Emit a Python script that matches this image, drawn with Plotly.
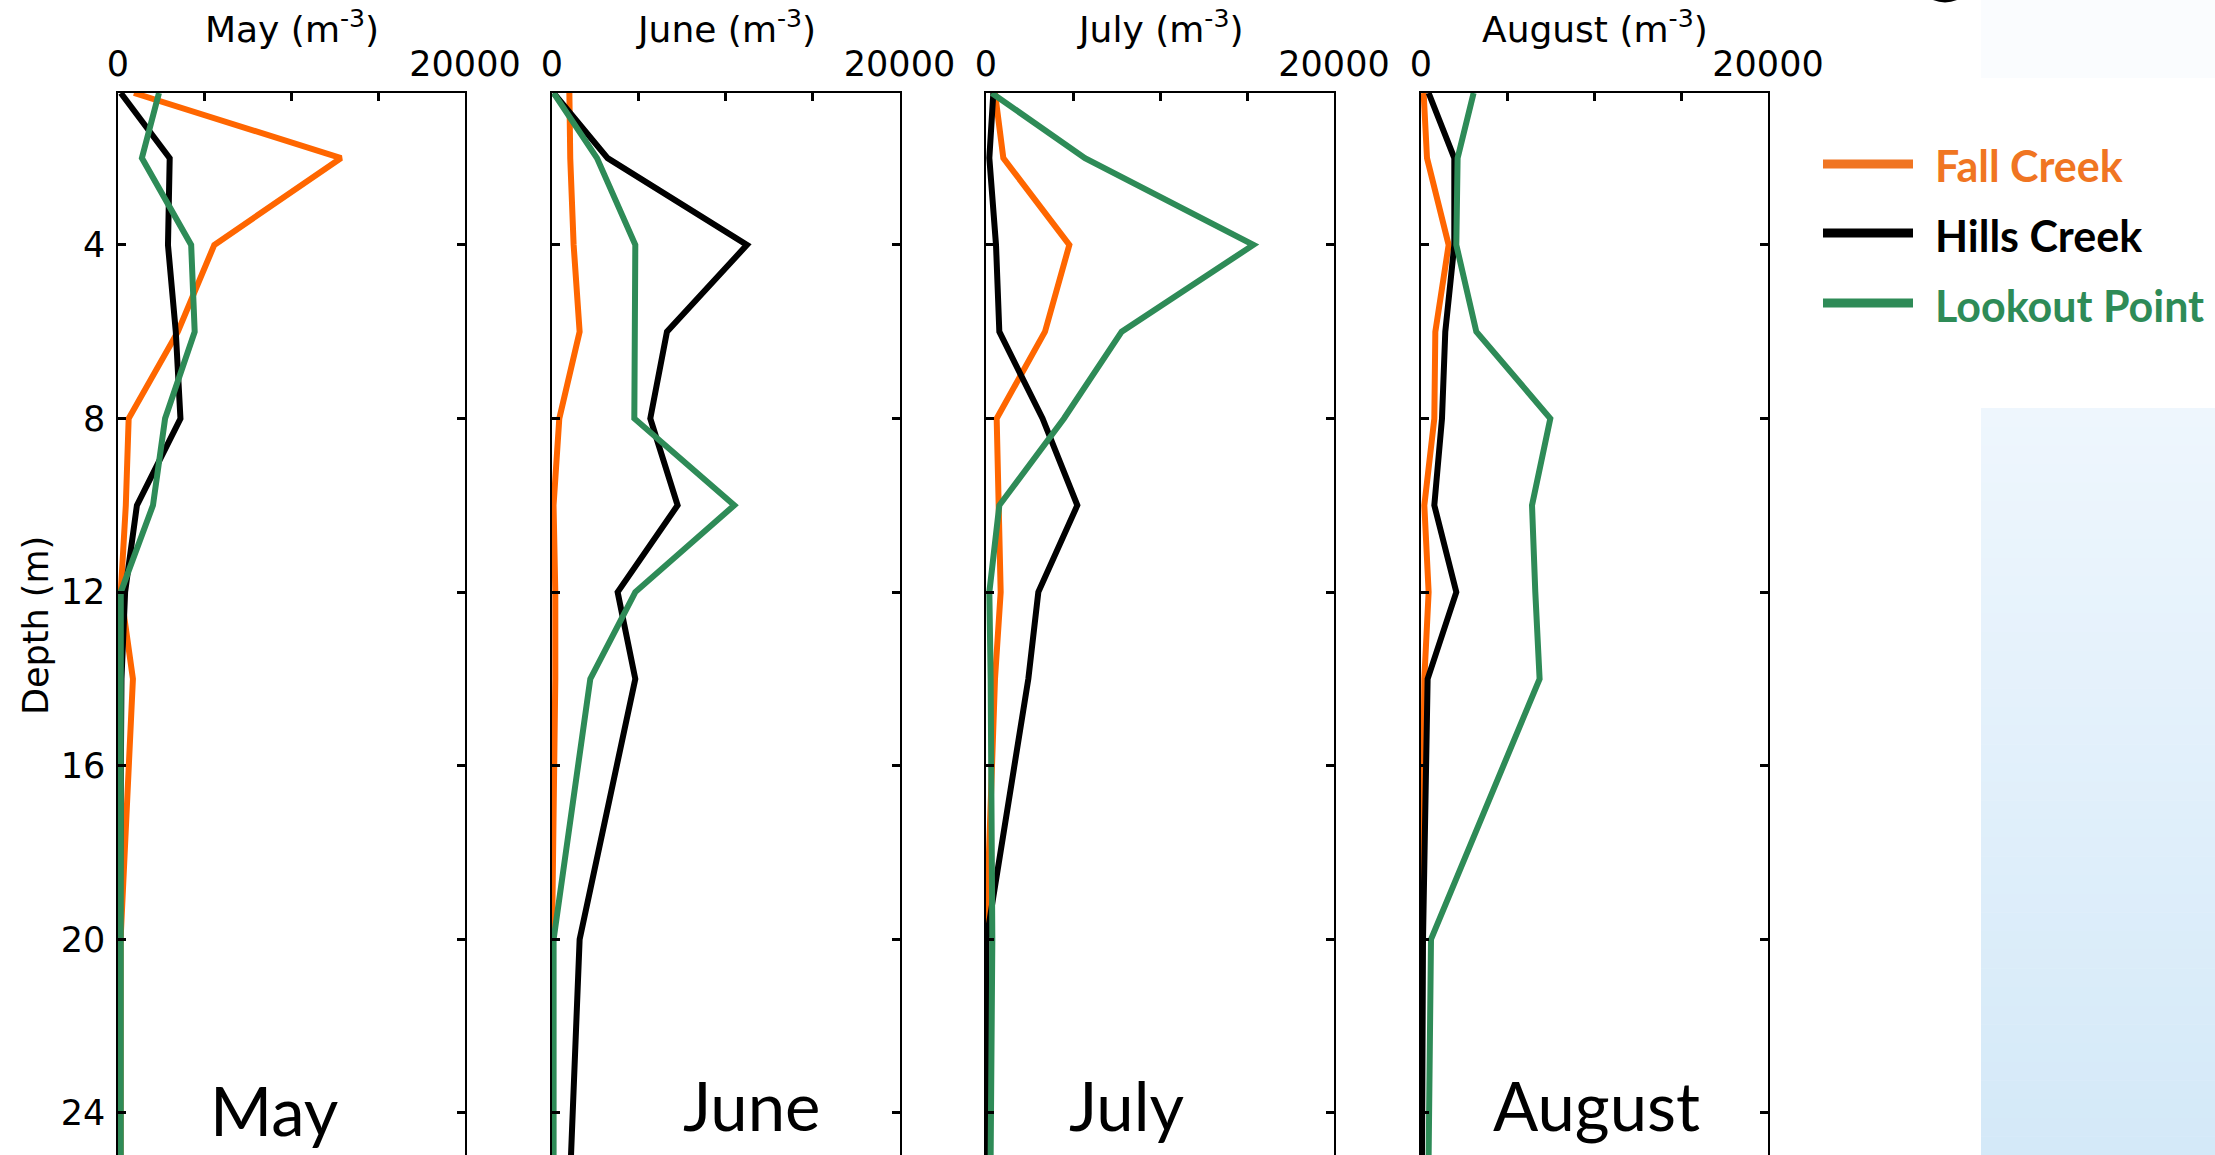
import plotly.graph_objects as go

W, H = 2215, 1155

# Sampling depths (m)
depths = [0.5, 2, 4, 6, 8, 10, 12, 14, 20, 25]

months = ["May", "June", "July", "August"]

# Densities (m^-3) per reservoir and month, top to bottom
fall_creek = {
    "May":    [920, 12860, 5550, 3450, 615, 450, 160, 860, 150, 150],
    "June":   [1000, 1050, 1245, 1590, 420, 90, 190, 190, 0, 0],
    "July":   [517, 996, 4790, 3390, 613, 709, 843, 517, 0, 0],
    "August": [152, 346, 1593, 826, 768, 192, 440, 192, 40, 40],
}
hills_creek = {
    "May":    [160, 2980, 2880, 3330, 3600, 1090, 410, 200, 100, 100],
    "June":   [92, 3200, 11220, 6617, 5657, 7229, 3777, 4795, 1590, 1092],
    "July":   [421, 192, 575, 766, 3250, 5249, 3008, 2433, 30, 30],
    "August": [440, 1920, 1920, 1400, 1210, 768, 2035, 382, 115, 58],
}
lookout_point = {
    "May":    [2362, 1377, 4217, 4420, 2714, 2016, 160, 160, 160, 160],
    "June":   [92, 2590, 4795, 4795, 4738, 10490, 4795, 2205, 92, 92],
    "July":   [326, 5690, 15364, 7797, 4480, 766, 192, 268, 364, 268],
    "August": [3032, 2110, 2035, 3188, 7453, 6398, 6588, 6836, 576, 440],
}

series = [
    ("Fall Creek", fall_creek, "#FF6600", "#F07522"),
    ("Hills Creek", hills_creek, "#000000", "#000000"),
    ("Lookout Point", lookout_point, "#2E8B57", "#2E8B57"),
]

x_label_ticks = [0, 20000]
x_minor_ticks = [5000, 10000, 15000]
y_ticks = [4, 8, 12, 16, 20, 24]

# Panel edges in pixels
panel_px = [(118, 465), (552, 899.5), (986, 1334), (1421, 1768)]
top_px = 93
label_pos = [(274, 1110), (751, 1105), (1126, 1105), (1596, 1105)]


def px(x):
    return x / W


def py(y):
    return 1 - y / H


axis_font = dict(family="DejaVu Sans", size=35, color="black")
tick_style = dict(ticks="inside", ticklen=8, tickwidth=3, tickcolor="black")

fig = go.Figure()
layout = dict(
    template="none",
    width=W, height=H, autosize=False,
    margin=dict(l=0, r=0, t=0, b=0, pad=0, autoexpand=False),
    paper_bgcolor="white", plot_bgcolor="white",
    showlegend=False,
    annotations=[], shapes=[],
)

for i, m in enumerate(months):
    k = "" if i == 0 else str(i + 1)
    xa, ya = "x" + k, "y" + k
    for name, data, col, _ in series:
        fig.add_trace(go.Scatter(
            x=data[m], y=depths, mode="lines", name=name,
            line=dict(color=col, width=6), xaxis=xa, yaxis=ya,
            hoverinfo="skip",
        ))
    x0, x1 = panel_px[i]
    layout["xaxis" + k] = dict(
        domain=[px(x0), px(x1)], anchor=ya, side="top",
        range=[0, 20000], tickmode="array", tickvals=x_label_ticks,
        minor=dict(tickmode="array", tickvals=x_minor_ticks, **tick_style,
                   showgrid=False),
        **tick_style,
        showline=True, linecolor="black", linewidth=1.5, mirror=False,
        showgrid=False, zeroline=False, tickfont=axis_font,
        tickformat="d", ticklabelstandoff=1, automargin=False,
    )
    layout["yaxis" + k] = dict(
        domain=[0, py(top_px)], anchor=xa,
        range=[24.97, 0.5], tickmode="array", tickvals=y_ticks,
        **tick_style,
        showline=True, linecolor="black", linewidth=1.5, mirror="ticks",
        showgrid=False, zeroline=False, tickfont=axis_font,
        showticklabels=(i == 0), ticklabelstandoff=4, automargin=False,
    )
    layout["annotations"].append(dict(
        x=px((x0 + x1) / 2), y=py(27), xref="paper", yref="paper",
        text=f"{m} (m<sup>-3</sup>)", showarrow=False,
        xanchor="center", yanchor="middle",
        font=dict(family="DejaVu Sans", size=36, color="black"),
    ))
    lx, ly = label_pos[i]
    layout["annotations"].append(dict(
        x=px(lx), y=py(ly), xref="paper", yref="paper", text=m,
        showarrow=False, xanchor="center", yanchor="middle",
        font=dict(family="Lato", size=67, color="black"),
    ))

layout["annotations"].append(dict(
    x=px(36), y=py(626), xref="paper", yref="paper", text="Depth (m)",
    textangle=-90, showarrow=False, xanchor="center", yanchor="middle",
    font=axis_font,
))

# Light backdrop panels on the right
layout["shapes"].append(dict(
    type="rect", xref="paper", yref="paper",
    x0=px(1981), x1=1, y0=py(78), y1=1,
    fillcolor="#FAFCFE", line=dict(width=0), layer="below",
))
c_top, c_bot = (238, 246, 253), (212, 233, 248)
n_bands = 40
y_a, y_b = 408, H
for b in range(n_bands):
    t = b / (n_bands - 1)
    c = tuple(round(c_top[j] + (c_bot[j] - c_top[j]) * t) for j in range(3))
    ya0 = y_a + (y_b - y_a) * b / n_bands
    ya1 = y_a + (y_b - y_a) * (b + 1) / n_bands
    layout["shapes"].append(dict(
        type="rect", xref="paper", yref="paper",
        x0=px(1981), x1=1, y0=py(ya1 + 0.5), y1=py(ya0),
        fillcolor="rgb(%d,%d,%d)" % c, line=dict(width=0), layer="below",
    ))

# Descender of a heading glyph above the frame
layout["shapes"].append(dict(
    type="path", xref="paper", yref="paper",
    path="M %f,1 Q %f,%f %f,1 Z" % (px(1933), px(1945), py(5), px(1957)),
    fillcolor="black", line=dict(width=0),
))

# Legend
leg_y = [164, 233, 303]
for (name, _, _, lcol), yy in zip(series, leg_y):
    layout["shapes"].append(dict(
        type="line", xref="paper", yref="paper",
        x0=px(1823), x1=px(1913), y0=py(yy), y1=py(yy),
        line=dict(color=lcol, width=9),
    ))
    layout["annotations"].append(dict(
        x=px(1933), y=py(yy + 2), xref="paper", yref="paper",
        text=f"<b>{name}</b>", showarrow=False,
        xanchor="left", yanchor="middle",
        font=dict(family="Lato", size=43, color=lcol),
    ))

fig.update_layout(**layout)
fig.write_html(
    "out.html",
    config={"responsive": False, "displayModeBar": False},
    post_script="document.body.style.margin='0';document.body.style.overflow='hidden';",
)
